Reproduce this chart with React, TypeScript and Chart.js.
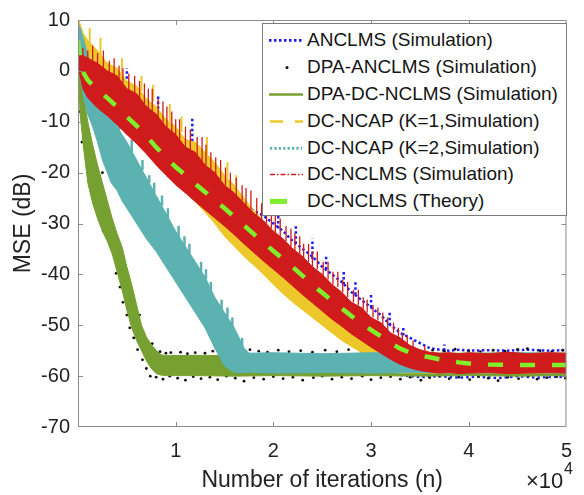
import React, { useEffect, useRef } from "react";
import { Chart, registerables } from "chart.js";

Chart.register(...registerables);

const FONT = "'Liberation Sans', Arial, Helvetica, sans-serif";
const TEXT = "#222222";
const AXIS = "#8c8c8c";

// ---- axes ----
const xTickValues = [10000, 20000, 30000, 40000, 50000];
const xTickLabels = ["1", "2", "3", "4", "5"];
const yTickValues = [-70, -60, -50, -40, -30, -20, -10, 0, 10];
const yTickLabels = ["-70", "-60", "-50", "-40", "-30", "-20", "-10", "0", "10"];
const xTitle = "Number of iterations (n)";
const yTitle = "MSE (dB)";

const legendLabels = [
  "ANCLMS (Simulation)",
  "DPA-ANCLMS (Simulation)",
  "DPA-DC-NCLMS (Simulation)",
  "DC-NCAP (K=1,Simulation)",
  "DC-NCAP (K=2,Simulation)",
  "DC-NCLMS (Simulation)",
  "DC-NCLMS (Theory)",
];

// ---- DC-NCLMS (Theory) ----
const theoryN = [0, 250, 600, 1000, 2000, 3000, 4000, 5000, 6000, 7000, 8000, 9000, 10000, 11000, 12000, 13000, 14000, 15000, 16000, 17000, 18000, 19000, 20000, 21000, 22000, 23000, 24000, 25000, 26000, 27000, 28000, 29000, 30000, 31000, 32000, 33000, 34000, 35000, 36000, 37000, 38000, 39000, 40000, 42000, 44000, 46000, 48000, 50000];
const theoryDb = [6, 1.8, -0.5, -1.8, -3.8, -5.3, -7.1, -9.0, -10.8, -12.8, -15.0, -17.0, -18.9, -20.5, -22.2, -23.8, -25.4, -27.0, -28.7, -30.4, -32.1, -33.8, -35.4, -37.0, -38.6, -40.3, -42.0, -43.6, -45.2, -46.7, -48.2, -49.6, -50.9, -52.2, -53.5, -54.6, -55.4, -55.9, -56.3, -56.7, -57.0, -57.3, -57.5, -57.7, -57.8, -57.8, -57.8, -57.8];

// ---- shared sample grid for red / yellow / blue envelopes ----
const gridN = [0, 500, 1000, 2000, 3000, 4000, 5000, 6000, 7000, 8000, 9000, 10000, 11000, 12000, 13000, 14000, 15000, 16000, 17000, 18000, 19000, 20000, 21000, 22000, 23000, 24000, 25000, 26000, 27000, 28000, 29000, 30000, 31000, 32000, 33000, 34000, 35000, 36000, 37000, 38000, 39000, 40000, 42000, 44000, 46000, 48000, 50000];

// DC-NCLMS (Simulation) envelope
const redUpper = [3.5, 3, 2.5, 1.5, 0, -1, -3.5, -4.5, -7, -8.5, -11, -12.5, -15, -16, -18.5, -20, -22.5, -24, -26, -28, -29.5, -31.5, -33, -35, -36.5, -38.5, -40, -42, -43.5, -45.5, -46.5, -48.5, -49.5, -51.5, -52.5, -54, -54.8, -55.3, -55.5, -55.4, -55.6, -55.4, -55.6, -55.3, -55.6, -55.4, -55.5];
const redLower = [1, -3.5, -5.3, -7.3, -8.8, -10.6, -12.5, -14.3, -16.3, -18.5, -20.5, -22.4, -24, -25.7, -27.3, -28.9, -30.5, -32.2, -34, -35.7, -37.4, -39, -40.6, -42.3, -44, -45.6, -47.2, -48.8, -50.2, -51.7, -53, -54.3, -55.5, -56.7, -57.7, -58.4, -58.9, -59.2, -59.4, -59.3, -59.5, -59.4, -59.3, -59.5, -59.4, -59.3, -59.4];
const redSpikeN = [500, 1000, 1500, 2000, 2600, 3200, 3700, 4200, 4600, 5200, 5800, 6300, 6800, 7200, 7600, 8200, 8700, 9100, 9600, 10000, 10400, 11000, 11500, 12200, 12700, 13100, 13600, 14100, 14600, 15100, 15600, 16200, 16800, 17200, 17700, 18300, 18800, 19300, 19800, 20200, 20700, 21300, 21800, 22200, 22700, 23100, 23600, 24000, 24500, 25100, 25600, 26100, 26600, 27100, 27600, 28200, 28700, 29200, 29600, 30200, 30700, 31200, 31700, 32300, 32800, 33200, 33700, 34300, 35500];
const redSpikeLo = [1, 1, 1.5, 0, 0.5, -1, -1, -2.5, -2.5, -4, -4.5, -5.5, -6.5, -7.5, -8, -9.5, -10.5, -11.5, -12, -13, -13.5, -15, -15.5, -16.5, -18, -18.5, -19.5, -20.5, -21.5, -22.5, -23.5, -24.5, -25.5, -26.5, -27.5, -28.5, -29.5, -30, -31, -32, -32.5, -33.5, -34.5, -35.5, -36, -37, -37.5, -38.5, -39, -40.5, -41, -42, -42.5, -43.5, -44.5, -45.5, -46, -47, -47.5, -48.5, -49, -50, -51, -51.5, -52.5, -53, -53.5, -54.5, -55];
const redSpikeHi = [4.5, 4, 5, 3.5, 4, 2, 2.5, 1, 0.5, -0.5, -1, -2, -2.5, -3.5, -3.5, -5.5, -6, -7, -8, -9.5, -9.5, -11, -11.5, -13, -13, -14.5, -16, -17, -17.5, -19, -20, -21, -22.5, -23, -23.5, -25, -26, -27, -27, -28.5, -29, -30.5, -31, -32, -32.5, -34, -34, -35.5, -35.5, -37.5, -37.5, -39.5, -39.5, -41, -41.5, -43, -43, -44.5, -45, -46, -46.5, -47.5, -48.5, -49.5, -50.5, -51.5, -52, -53, -54];

// DC-NCAP (K=1) envelope
const yellowUpper = [10.5, 7.5, 6, 4, 1.5, 0.5, -2, -3, -5.5, -7, -9.5, -11, -13.5, -14, -16, -18, -20.5, -22.5, -25, -27.5, -29.5, -31.5, -35, -37, -39, -41, -43, -45, -47, -49, -50.5, -52.5, -54, -55, -55.5, -55.5, -55.5, -55.5, -55.5, -55.5, -55.5, -55.5, -55.5, -55.5, -55.5, -55.5, -55.5];
const yellowLower = [1.5, -3, -4.8, -6.8, -8.3, -10, -12, -13.8, -15.8, -18, -20, -22, -23.8, -25.7, -27.8, -30, -32.5, -34.5, -36.5, -38.2, -40, -42, -43.8, -45.5, -47, -48.5, -50, -51.5, -53, -54.2, -55.3, -56.5, -58, -59.2, -59.4, -59.4, -59.4, -59.4, -59.4, -59.4, -59.4, -59.4, -59.4, -59.4, -59.4, -59.4, -59.4];
const yellowSpikeN = [1200, 2300, 4500, 6500, 7700, 9400, 10600, 13200, 15300, 16200];
const yellowSpikeLo = [5, 3, -0.5, -4, -6, -10, -12, -16.5, -21, -23];
const yellowSpikeHi = [8.5, 6.5, 2.5, -1, -2.8, -6.5, -9, -13, -18, -20.5];

// ANCLMS (Simulation) visible envelope
const blueUpper = [3, 2.5, 2, 1, -0.5, -1.5, -4, -5, -7.5, -9, -11.5, -13, -15.5, -16.5, -19, -20.5, -23, -24.5, -26, -27.5, -28.5, -30, -31.5, -33.5, -35, -36.5, -38.5, -40, -41.5, -43.5, -45, -46.5, -48, -50, -51.5, -52.5, -53.5, -54.5, -54.8, -55, -54.8, -55, -54.9, -55, -54.8, -55, -54.9];
const blueFloorN = [33000, 35000, 37000, 39000, 41000, 43000, 45000, 47000, 49000, 50000];
const blueFloorDb = [-59.8, -60.2, -60.0, -60.3, -60.1, -60.4, -60.0, -60.3, -60.1, -60.2];
const blueSpikeN = [5000, 8200, 11700, 20500, 22300, 24000, 25400, 27200, 28400, 30000, 31900, 33300, 37500, 45000];
const blueSpikeLo = [-3.5, -8.5, -15.8, -31, -34, -37, -39, -42, -44, -46.5, -50, -52, -55, -55];
const blueSpikeHi = [0.5, -5, -9, -28, -30.5, -33, -36.5, -39.5, -41.5, -44, -47.5, -50.5, -53.8, -54.3];

// DC-NCAP (K=2) envelope
const tealN = [0, 300, 600, 1000, 1500, 2000, 2500, 3000, 3400, 4000, 4500, 5000, 6000, 7000, 8000, 9000, 10000, 11000, 12000, 13000, 14000, 15000, 16000, 17000, 17500, 20000, 25000, 30000, 35000, 40000, 45000, 50000];
const tealUpper = [9.5, 8, 6, 3, 0.5, -2, -4.5, -7, -8.5, -11, -12.5, -14, -17.5, -21, -24.5, -28, -31.5, -34.5, -37.5, -40.5, -44.5, -47.5, -50.5, -54.5, -55.5, -55.4, -55.6, -55.4, -55.5, -55.5, -55.4, -55.5];
const tealLower = [5, -2, -5.5, -8.5, -11, -14, -17.5, -20, -22, -23.5, -25.5, -27, -30, -33, -35.5, -38.5, -41.5, -44.5, -47.5, -50.5, -54.5, -58, -59.3, -59.3, -59.2, -59.4, -59.3, -59.4, -59.3, -59.4, -59.3, -59.4];
const tealSpikeN = [3000, 4200, 5500, 6600, 7300, 7800, 8600, 9200, 10300, 10900, 11400, 12600, 13100, 13600, 14700, 15300, 15800, 16800];
const tealSpikeLo = [-7.5, -12, -16, -19.5, -22, -24, -26.5, -29, -33, -34.5, -36, -39.5, -41, -43.5, -47, -48.5, -50.5, -54.5];
const tealSpikeHi = [-5, -9.5, -13.5, -17.5, -20.5, -22, -24.5, -27, -30.5, -32.5, -34, -37.5, -39, -41.5, -45, -46.5, -48.5, -52.5];

// DPA-DC-NCLMS envelope
const greenN = [0, 200, 500, 1000, 1500, 2000, 2500, 3000, 3500, 4000, 4500, 5000, 5500, 6000, 6500, 7000, 7500, 8000, 8500, 9000, 12000, 16000, 20000, 25000, 30000, 35000, 40000, 45000, 50000];
const greenUpper = [6, 2, -4, -10, -14.5, -18.5, -22, -25.5, -29, -32, -34.5, -38.5, -42, -46, -50, -52.3, -53.8, -54.9, -55.8, -56, -55.9, -56, -55.9, -56, -56, -55.9, -56, -56, -55.9];
const greenLower = [3, -8, -14, -22, -26, -29, -31.5, -33.5, -36, -39.5, -43, -47, -50.5, -53, -55, -57, -58.5, -59.5, -59.8, -59.9, -59.9, -60, -59.9, -60, -59.9, -60, -59.9, -60, -59.9];

// DPA-ANCLMS (Simulation) dots
const blackN = [150, 400, 2500, 2600, 3900, 4300, 4600, 5000, 5200, 5300, 5700, 6100, 6300, 6600, 7000, 7400, 7600, 8000, 8400, 8700, 9000, 9400, 9500, 10200, 10500, 11000, 11200, 11800, 12000, 12600, 13000, 13500, 13800, 14300, 14600, 15200, 16000, 16100, 17000, 17600, 18000, 18500, 19000, 19400, 20000, 20500, 21000, 21600, 22000, 22800, 23000, 24000, 24100, 25000, 25300, 26000, 26500, 27000, 27700, 28000, 29000, 29100, 30000, 30200, 31000, 31500, 32000, 32600, 33000, 33800, 34000, 35000, 35100, 36000, 36300, 37000, 37500, 38000, 38600, 39000, 40000, 40100, 41000, 41200, 42000, 42500, 43000, 43700, 44000, 45000, 45100, 46000, 46100, 47000, 47300, 48000, 48500, 49000, 49600, 49900];
const blackDb = [-8, -14, -20, -31.5, -39.8, -42.5, -45.5, -48, -41, -50.5, -52.5, -54.8, -48, -56.8, -58.5, -60, -53.6, -60.2, -55.2, -60.6, -55.5, -60, -55.4, -60.4, -55.3, -60.8, -55.6, -60.1, -55.4, -60.5, -55.5, -60.2, -55.1, -60.7, -55.4, -60, -55.2, -60.4, -61, -54.8, -60.3, -55.1, -60.6, -55.3, -60.1, -54.9, -60.5, -55.2, -60.2, -55, -60.8, -55.3, -60.3, -60, -54.9, -60.6, -55.2, -60.2, -54.8, -60.5, -55.1, -60, -60.7, -55, -60.3, -54.6, -60.1, -55.2, -60.6, -54.9, -60.2, -55.3, -60.8, -60.3, -54.9, -60, -55.1, -60.5, -54.7, -60.2, -55, -60.7, -60.1, -55.2, -60.4, -54.9, -60.9, -55.1, -60.2, -54.8, -60.5, -54.6, -60, -60.6, -55, -60.3, -55.2, -60.1, -54.9, -60.4];

// ---- colours ----
const C_BLUE = "#1c1cf2";
const C_BLACK = "#111111";
const C_GREEN = "#76a130";
const C_YELLOW = "#eec72a";
const C_TEAL = "#5cb1b1";
const C_RED = "#cf1b1b";
const C_LIME = "#7fee2b";

const xy = (xs: number[], ys: number[]) => xs.map((x, i) => ({ x, y: ys[i] }));
const segs = (ns: number[], lo: number[], hi: number[]) =>
  ns.flatMap((x, i) => [
    { x, y: lo[i] },
    { x, y: hi[i] },
    { x, y: null as any },
  ]);

const boxPlugin = {
  id: "matlabBox",
  afterDatasetsDraw(chart: any) {
    const { ctx, chartArea } = chart;
    const { left, right, top, bottom } = chartArea;
    const xs = chart.scales.x;
    const ys = chart.scales.y;
    ctx.save();
    ctx.strokeStyle = AXIS;
    ctx.lineWidth = 1;
    ctx.strokeRect(left + 0.5, top + 0.5, right - left - 1, bottom - top - 1);
    ctx.beginPath();
    xTickValues.forEach((v) => {
      const px = Math.round(xs.getPixelForValue(v)) + 0.5;
      if (px > right - 2) return;
      ctx.moveTo(px, bottom);
      ctx.lineTo(px, bottom - 5);
      ctx.moveTo(px, top);
      ctx.lineTo(px, top + 5);
    });
    yTickValues.forEach((v) => {
      const py = Math.round(ys.getPixelForValue(v)) + 0.5;
      if (py < top + 2 || py > bottom - 2) return;
      ctx.moveTo(left, py);
      ctx.lineTo(left + 5, py);
      ctx.moveTo(right, py);
      ctx.lineTo(right - 5, py);
    });
    ctx.stroke();
    ctx.restore();
  },
};

function Sample({ i }: { i: number }) {
  const w = 36;
  const h = 26.8;
  const c = h / 2;
  let el: any = null;
  if (i === 0) el = <line x1={1} y1={c} x2={35} y2={c} stroke={C_BLUE} strokeWidth={2.6} strokeDasharray="2.5 2.5" />;
  if (i === 1) el = <circle cx={19} cy={c} r={1.5} fill={C_BLACK} />;
  if (i === 2) el = <line x1={1} y1={c} x2={35} y2={c} stroke={C_GREEN} strokeWidth={2.5} />;
  if (i === 3) el = <line x1={2} y1={c} x2={35} y2={c} stroke={C_YELLOW} strokeWidth={2.5} strokeDasharray="13 12" />;
  if (i === 4) el = <line x1={2} y1={c} x2={34} y2={c} stroke={C_TEAL} strokeWidth={2.6} strokeDasharray="2.2 2.2" />;
  if (i === 5) el = <line x1={2} y1={c} x2={35} y2={c} stroke={C_RED} strokeWidth={1.5} strokeDasharray="5 2 1.5 2" />;
  if (i === 6) el = <line x1={2} y1={c} x2={19} y2={c} stroke={C_LIME} strokeWidth={5} />;
  return (
    <svg width={w} height={h} style={{ position: "absolute", left: 5, top: 0 }}>
      {el}
    </svg>
  );
}

export default function App() {
  const ref = useRef<HTMLCanvasElement | null>(null);

  useEffect(() => {
    const canvas = ref.current;
    if (!canvas) return;
    const line = (data: any[], color: string, order: number, extra: any = {}) => ({
      type: "line",
      data,
      borderColor: color,
      backgroundColor: color,
      borderWidth: 1,
      pointRadius: 0,
      tension: 0,
      fill: false,
      spanGaps: false,
      order,
      ...extra,
    });

    const datasets: any[] = [
      // 0 theory
      line(xy(theoryN, theoryDb), C_LIME, 0, { borderWidth: 4.5, borderDash: [15, 17], label: legendLabels[6] }),
      // 1-3 red
      line(xy(gridN, redUpper), C_RED, 1, { fill: 2, label: legendLabels[5] }),
      line(xy(gridN, redLower), C_RED, 1),
      line(segs(redSpikeN, redSpikeLo, redSpikeHi), C_RED, 1, { borderWidth: 1.3 }),
      // 4-6 teal
      line(xy(tealN, tealUpper), C_TEAL, 2, { fill: 5, label: legendLabels[4] }),
      line(xy(tealN, tealLower), C_TEAL, 2),
      line(segs(tealSpikeN, tealSpikeLo, tealSpikeHi), C_TEAL, 2, { borderWidth: 2.5 }),
      // 7-9 yellow
      line(xy(gridN, yellowUpper), C_YELLOW, 3, { fill: 8, label: legendLabels[3] }),
      line(xy(gridN, yellowLower), C_YELLOW, 3),
      line(segs(yellowSpikeN, yellowSpikeLo, yellowSpikeHi), C_YELLOW, 3, { borderWidth: 2 }),
      // 10-11 green
      line(xy(greenN, greenUpper), C_GREEN, 4, { fill: 11, label: legendLabels[2] }),
      line(xy(greenN, greenLower), C_GREEN, 4),
      // 12 black dots
      line(xy(blackN, blackDb), C_BLACK, 5, {
        showLine: false,
        pointRadius: 1.4,
        pointBorderWidth: 0,
        pointBackgroundColor: C_BLACK,
        label: legendLabels[1],
      }),
      // 13-15 blue
      line(xy(gridN, blueUpper), C_BLUE, 6, { borderWidth: 2.5, borderDash: [2.5, 2.5], label: legendLabels[0] }),
      line(xy(blueFloorN, blueFloorDb), C_BLUE, 6, { borderWidth: 2.5, borderDash: [2.5, 3] }),
      line(segs(blueSpikeN, blueSpikeLo, blueSpikeHi), C_BLUE, 6, { borderWidth: 2.5, borderDash: [2.5, 2.5] }),
    ];

    const tickFont = { family: FONT, size: 20, lineHeight: 1.2 };
    const titleFont = { family: FONT, size: 23, lineHeight: 1.2 };

    const chart = new Chart(canvas, {
      type: "line",
      data: { datasets },
      options: {
        animation: false,
        responsive: false,
        devicePixelRatio: 1,
        events: [],
        layout: { padding: { left: 0, top: 14, right: 7, bottom: 0 } },
        plugins: { legend: { display: false }, tooltip: { enabled: false } },
        scales: {
          x: {
            type: "linear",
            min: 0,
            max: 50000,
            offset: false,
            grid: { display: false, drawTicks: false },
            border: { display: false },
            afterBuildTicks: (s: any) => {
              s.ticks = xTickValues.map((value) => ({ value }));
            },
            ticks: {
              autoSkip: false,
              maxRotation: 0,
              minRotation: 0,
              padding: 12,
              color: TEXT,
              font: tickFont,
              callback: (_v: any, i: number) => xTickLabels[i],
            },
            title: { display: true, text: xTitle, color: TEXT, font: titleFont, padding: { top: 0, bottom: 1 } },
            afterFit: (s: any) => {
              s.height = 68;
            },
          },
          y: {
            type: "linear",
            min: -70,
            max: 10,
            grid: { display: false, drawTicks: false },
            border: { display: false },
            afterBuildTicks: (s: any) => {
              s.ticks = yTickValues.map((value) => ({ value }));
            },
            ticks: {
              autoSkip: false,
              padding: 8,
              color: TEXT,
              font: tickFont,
              callback: (_v: any, i: number) => yTickLabels[i],
            },
            title: { display: true, text: yTitle, color: TEXT, font: titleFont, padding: { top: 10, bottom: 0 } },
            afterFit: (s: any) => {
              s.width = 78;
            },
          },
        },
      } as any,
      plugins: [boxPlugin],
    } as any);
    return () => chart.destroy();
  }, []);

  return (
    <div style={{ position: "absolute", left: 0, top: 0, width: 584, height: 495, background: "#fff", overflow: "hidden" }}>
      <canvas ref={ref} width={584} height={495} style={{ position: "absolute", left: 0, top: 0, width: 584, height: 495 }} />
      <div
        style={{
          position: "absolute",
          left: 262,
          top: 23,
          width: 305,
          height: 193,
          boxSizing: "border-box",
          border: "1px solid #7a7a7a",
          background: "#fff",
          fontFamily: FONT,
          fontSize: 19,
          color: "#151515",
        }}
      >
        {legendLabels.map((t, i) => (
          <div key={t} style={{ position: "absolute", left: 0, top: 3.3 + 26.8 * i, height: 26.8, width: 300 }}>
            <Sample i={i} />
            <span style={{ position: "absolute", left: 44, top: 0, lineHeight: "26.8px", whiteSpace: "nowrap" }}>{t}</span>
          </div>
        ))}
      </div>
      <span
        style={{
          position: "absolute",
          left: 526,
          top: 470,
          fontFamily: FONT,
          fontSize: 22,
          lineHeight: "22px",
          color: TEXT,
          whiteSpace: "nowrap",
        }}
      >
        ×10
      </span>
      <span
        style={{
          position: "absolute",
          left: 564,
          top: 461,
          fontFamily: FONT,
          fontSize: 16,
          lineHeight: "16px",
          color: TEXT,
          whiteSpace: "nowrap",
        }}
      >
        4
      </span>
    </div>
  );
}
